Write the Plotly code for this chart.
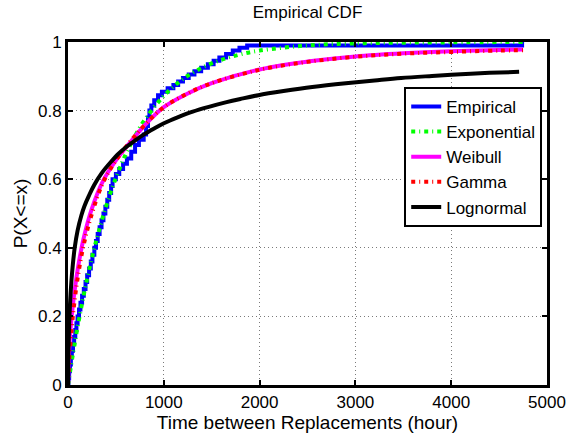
import plotly.graph_objects as go

# Empirical CDF steps (time of jump in hours, cumulative probability after jump)
emp_x = [5, 12, 20, 30, 40, 52, 64, 76, 88, 100, 115, 130, 147, 165, 183, 200, 220, 238, 255, 275,
         292, 310, 330, 350, 370, 390, 410, 430, 450, 465, 500, 535, 575, 615, 660, 700, 740, 790, 815, 835,
         850, 870, 900, 940, 980, 1040, 1100, 1150, 1200, 1260, 1320, 1390, 1460, 1520, 1580, 1650, 1720, 1790, 1870, 4740]
emp_y = [0.02, 0.04, 0.06, 0.08, 0.10, 0.12, 0.14, 0.16, 0.18, 0.20, 0.22, 0.24, 0.26, 0.28, 0.30, 0.32, 0.34, 0.36, 0.38, 0.40,
         0.42, 0.44, 0.46, 0.48, 0.50, 0.52, 0.54, 0.56, 0.58, 0.60, 0.615, 0.63, 0.645, 0.66, 0.68, 0.70, 0.715, 0.73, 0.755, 0.78,
         0.80, 0.815, 0.83, 0.845, 0.855, 0.865, 0.875, 0.885, 0.895, 0.905, 0.915, 0.925, 0.935, 0.945, 0.955, 0.965, 0.975, 0.983, 0.99, 1.0]

# Fitted CDFs
exp_x = [0, 50, 100, 200, 300, 400, 500, 600, 700, 800, 1000, 1200, 1400, 1600, 1800, 2000, 2500, 3000, 3500, 4000, 4750]
exp_y = [0, 0.088, 0.169, 0.310, 0.426, 0.523, 0.604, 0.671, 0.726, 0.773, 0.843, 0.892, 0.925, 0.948, 0.964, 0.975, 0.990, 0.996, 0.998, 0.999, 1.0]

fit_x = [0, 10, 25, 58, 100, 161, 250, 366, 500, 650, 800, 1000, 1250, 1500, 2000, 2500, 3000, 3500, 4000, 4500, 4750]
wei_y = [0, 0.09, 0.16, 0.25, 0.335, 0.425, 0.515, 0.595, 0.655, 0.708, 0.757, 0.81, 0.85, 0.88, 0.920, 0.943, 0.958, 0.967, 0.973, 0.977, 0.978]
gam_y = [0, 0.06, 0.12, 0.22, 0.31, 0.405, 0.50, 0.59, 0.655, 0.71, 0.758, 0.81, 0.85, 0.88, 0.919, 0.942, 0.957, 0.966, 0.971, 0.975, 0.976]

logn_x = [0, 2, 5, 10, 20, 35, 50, 70, 100, 140, 172, 220, 275, 350, 447, 530, 618, 700, 789, 900, 1001, 1150,
          1302, 1470, 1645, 1800, 1987, 2250, 2550, 2900, 3200, 3477, 3800, 4100, 4400, 4709]
logn_y = [0, 0.05, 0.10, 0.16, 0.23, 0.30, 0.35, 0.40, 0.45, 0.495, 0.522, 0.553, 0.584, 0.617, 0.650, 0.675, 0.696, 0.713, 0.730, 0.748, 0.763, 0.781,
          0.797, 0.811, 0.824, 0.834, 0.845, 0.857, 0.869, 0.880, 0.888, 0.895, 0.901, 0.906, 0.910, 0.913]

x_ticks = [0, 1000, 2000, 3000, 4000, 5000]
y_ticks = [0, 0.2, 0.4, 0.6, 0.8, 1]
y_tick_text = ["0", "0.2", "0.4", "0.6", "0.8", "1"]

FONT = "Liberation Sans, Arial, Helvetica, sans-serif"
DD = "4px,4px,1px,4px"

fig = go.Figure()
fig.add_trace(go.Scatter(x=[0] + emp_x, y=[0] + emp_y, mode="lines", name="Empirical",
                         line=dict(color="#0000ff", width=4, shape="hv")))
fig.add_trace(go.Scatter(x=exp_x, y=exp_y, mode="lines", name="Exponential",
                         line=dict(color="#00ff00", width=4, dash=DD, shape="spline")))
fig.add_trace(go.Scatter(x=fit_x, y=wei_y, mode="lines", name="Weibull",
                         line=dict(color="#ff00ff", width=4, shape="spline")))
fig.add_trace(go.Scatter(x=fit_x, y=gam_y, mode="lines", name="Gamma",
                         line=dict(color="#ff0000", width=4, dash=DD, shape="spline")))
fig.add_trace(go.Scatter(x=logn_x, y=logn_y, mode="lines", name="Lognormal",
                         line=dict(color="#000000", width=4, shape="spline")))

axis_common = dict(
    showline=True, linecolor="black", linewidth=3, mirror="ticks",
    ticks="inside", ticklen=5, tickwidth=2, tickcolor="black",
    showgrid=True, gridcolor="#7a7a7a", gridwidth=1, griddash="1px,3px",
    zeroline=False, tickfont=dict(family=FONT, size=17, color="black"),
)

fig.update_layout(
    width=578, height=440,
    margin=dict(l=68, r=21, t=42, b=50),
    paper_bgcolor="white", plot_bgcolor="white",
    font=dict(family=FONT, color="black"),
    title=dict(text="Empirical CDF", x=0.5, xanchor="center", xref="paper",
               y=1 - 12 / 440, yanchor="middle", font=dict(family=FONT, size=17, color="black")),
    xaxis=dict(range=[0, 5000], tickvals=x_ticks, ticktext=[str(v) for v in x_ticks],
               title=dict(text="Time between Replacements (hour)", standoff=2,
                          font=dict(family=FONT, size=19, color="black")), **axis_common),
    yaxis=dict(range=[0, 1], tickvals=y_ticks, ticktext=y_tick_text,
               title=dict(text="P(X<=x)", standoff=6, font=dict(family=FONT, size=19, color="black")),
               **axis_common),
    showlegend=True,
    legend=dict(x=0.99, y=0.869, xanchor="right", yanchor="top",
                bgcolor="white", bordercolor="black", borderwidth=2,
                font=dict(family=FONT, size=17, color="black"),
                itemwidth=30, tracegroupgap=0),
)

fig.write_html("out.html")
